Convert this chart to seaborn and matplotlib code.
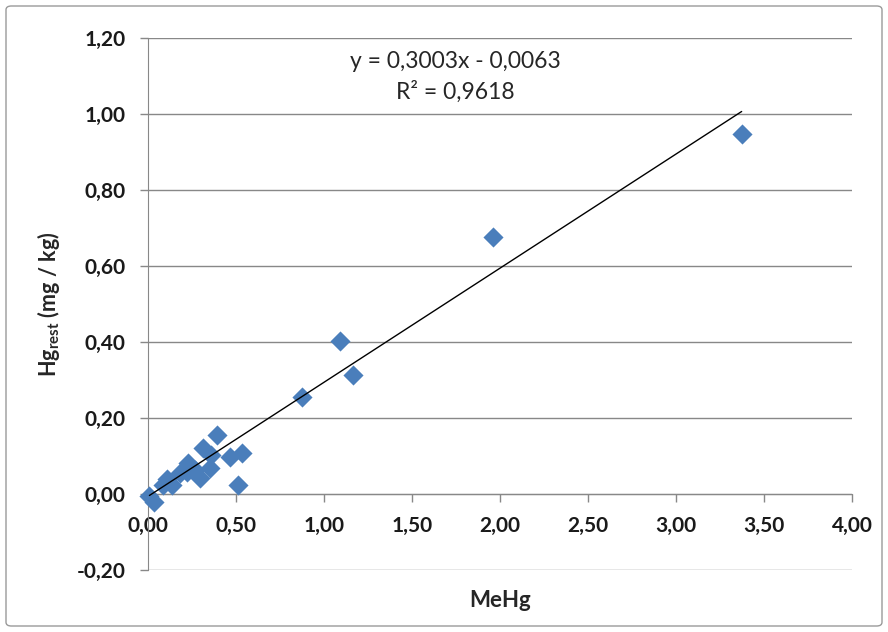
import numpy as np
import pandas as pd
import matplotlib.pyplot as plt
import seaborn as sns
from matplotlib.ticker import FuncFormatter
from matplotlib.patches import FancyBboxPatch

# data
mehg = [0.008, 0.034, 0.087, 0.106, 0.134, 0.180, 0.220, 0.229, 0.267, 0.295,
        0.314, 0.352, 0.360, 0.390, 0.466, 0.513, 0.532, 0.873, 1.090, 1.167,
        1.962, 3.373]
hg_rest = [-0.005, -0.020, 0.024, 0.039, 0.024, 0.055, 0.059, 0.081, 0.063, 0.041,
           0.120, 0.068, 0.103, 0.155, 0.098, 0.024, 0.107, 0.254, 0.403, 0.313,
           0.677, 0.947]
slope = 0.3003
intercept = -0.0063
r2 = 0.9618

x_ticks = [0.0, 0.5, 1.0, 1.5, 2.0, 2.5, 3.0, 3.5, 4.0]
y_ticks = [-0.2, 0.0, 0.2, 0.4, 0.6, 0.8, 1.0, 1.2]

df = pd.DataFrame({'MeHg': mehg, 'Hg_rest': hg_rest})

sns.set_style('white')
plt.rcParams['font.family'] = ['Lato', 'DejaVu Sans']

fig = plt.figure(figsize=(8.88, 6.32), dpi=100)
ax = fig.add_axes([148 / 888, 1 - 570 / 632, (852 - 148) / 888, (570 - 38) / 632])

# outer chart frame
fig.patches.append(FancyBboxPatch((6 / 888, 6 / 632), 876 / 888, 620 / 632,
                                  boxstyle='round,pad=0,rounding_size=0.006',
                                  transform=fig.transFigure, fill=False,
                                  edgecolor='#9a9a9a', linewidth=1))

sns.scatterplot(data=df, x='MeHg', y='Hg_rest', marker='D', s=105,
                color='#4a7ebb', edgecolor='#4a7ebb', linewidth=0, ax=ax,
                zorder=3, clip_on=False)

# trendline over the data range
xl = np.array([min(mehg), max(mehg)])
ax.plot(xl, slope * xl + intercept, color='black', linewidth=1, zorder=4)

ax.set_xlim(0, 4)
ax.set_ylim(-0.2, 1.2)
ax.set_xticks(x_ticks)
ax.set_yticks(y_ticks)
fmt = FuncFormatter(lambda v, p: f"{v:.2f}".replace('.', ','))
ax.xaxis.set_major_formatter(fmt)
ax.yaxis.set_major_formatter(fmt)

ax.grid(axis='y', color='#888888', linewidth=1)
ax.set_axisbelow(True)
for s in ['top', 'right']:
    ax.spines[s].set_visible(False)
ax.spines['left'].set_color('#888888')
ax.spines['bottom'].set_color('#888888')
ax.spines['bottom'].set_position(('data', 0))
ax.tick_params(axis='both', direction='out', length=6, width=1, color='#888888',
               labelsize=15, labelcolor='#1a1a1a', pad=10)
for lbl in ax.get_xticklabels() + ax.get_yticklabels():
    lbl.set_fontweight('bold')
ax.tick_params(left=True, bottom=True)

ax.set_xlabel('MeHg', fontsize=16, fontweight='bold', labelpad=0)
ax.xaxis.set_label_coords(0.5, -0.037)
ax.set_ylabel(r'Hg$_{\mathregular{rest}}$ (mg / kg)', fontsize=15.5, fontweight='bold')
ax.yaxis.set_label_coords(-0.122, 0.5)

ax.text(1.745, 1.137, f"y = {slope:.4f}x - {abs(intercept):.4f}".replace('.', ','),
        ha='center', va='center', fontsize=16.5)
ax.text(1.745, 1.058, f"R² = {r2:.4f}".replace('.', ','),
        ha='center', va='center', fontsize=16.5)

fig.savefig('out.png', dpi=100)
